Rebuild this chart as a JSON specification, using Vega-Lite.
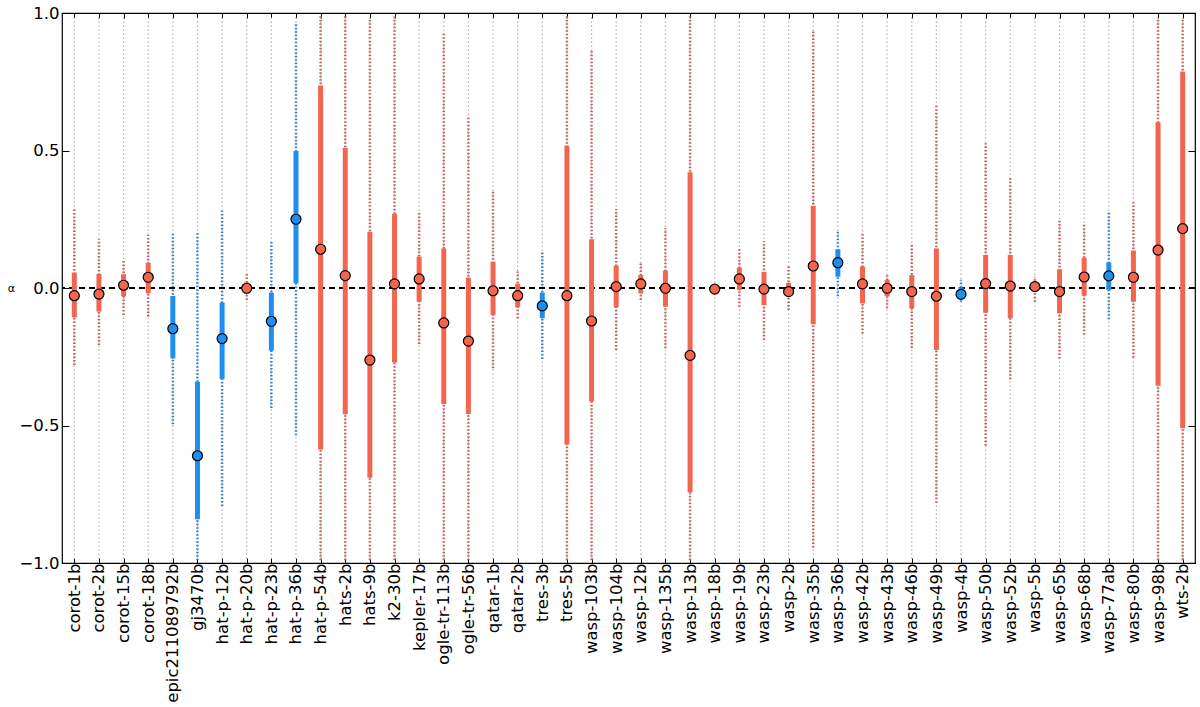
{
  "$schema": "https://vega.github.io/schema/vega-lite/v6.json",
  "width": 1133,
  "height": 550,
  "autosize": {"type": "none"},
  "padding": {"left": 62, "top": 13, "right": 5, "bottom": 144},
  "background": "white",
  "config": {
    "view": {"stroke": "black", "strokeWidth": 1.2},
    "font": "DejaVu Sans",
    "axis": {"labelFont": "DejaVu Sans", "labelFontSize": 16, "titleFont": "DejaVu Sans", "labelColor": "black", "tickColor": "black", "domain": false, "grid": false}
  },
  "data": {"values": [
    {"name": "corot-1b", "g": "R", "v": -0.028, "lo1": -0.107, "hi1": 0.056, "lo2": -0.28, "hi2": 0.29, "lo3": -0.985, "hi3": 0.985},
    {"name": "corot-2b", "g": "R", "v": -0.022, "lo1": -0.086, "hi1": 0.051, "lo2": -0.207, "hi2": 0.177, "lo3": -0.985, "hi3": 0.985},
    {"name": "corot-15b", "g": "R", "v": 0.01, "lo1": -0.03, "hi1": 0.05, "lo2": -0.098, "hi2": 0.1, "lo3": -0.985, "hi3": 0.985},
    {"name": "corot-18b", "g": "R", "v": 0.039, "lo1": -0.02, "hi1": 0.092, "lo2": -0.104, "hi2": 0.193, "lo3": -0.985, "hi3": 0.985},
    {"name": "epic211089792b", "g": "B", "v": -0.148, "lo1": -0.256, "hi1": -0.029, "lo2": -0.495, "hi2": 0.199, "lo3": -0.985, "hi3": 0.985},
    {"name": "gj3470b", "g": "B", "v": -0.61, "lo1": -0.841, "hi1": -0.341, "lo2": -0.99, "hi2": 0.2, "lo3": -0.985, "hi3": 0.985},
    {"name": "hat-p-12b", "g": "B", "v": -0.184, "lo1": -0.331, "hi1": -0.053, "lo2": -0.793, "hi2": 0.281, "lo3": -0.985, "hi3": 0.985},
    {"name": "hat-p-20b", "g": "R", "v": -0.001, "lo1": -0.02, "hi1": 0.02, "lo2": -0.044, "hi2": 0.053, "lo3": -0.985, "hi3": 0.985},
    {"name": "hat-p-23b", "g": "B", "v": -0.121, "lo1": -0.228, "hi1": -0.017, "lo2": -0.436, "hi2": 0.17, "lo3": -0.985, "hi3": 0.985},
    {"name": "hat-p-36b", "g": "B", "v": 0.25, "lo1": 0.017, "hi1": 0.498, "lo2": -0.535, "hi2": 0.96, "lo3": -0.985, "hi3": 0.985},
    {"name": "hat-p-54b", "g": "R", "v": 0.141, "lo1": -0.587, "hi1": 0.736, "lo2": -0.99, "hi2": 0.99, "lo3": -0.985, "hi3": 0.985},
    {"name": "hats-2b", "g": "R", "v": 0.045, "lo1": -0.459, "hi1": 0.51, "lo2": -0.99, "hi2": 0.99, "lo3": -0.985, "hi3": 0.985},
    {"name": "hats-9b", "g": "R", "v": -0.262, "lo1": -0.69, "hi1": 0.205, "lo2": -0.99, "hi2": 0.98, "lo3": -0.985, "hi3": 0.985},
    {"name": "k2-30b", "g": "R", "v": 0.015, "lo1": -0.271, "hi1": 0.27, "lo2": -0.99, "hi2": 0.987, "lo3": -0.985, "hi3": 0.985},
    {"name": "kepler-17b", "g": "R", "v": 0.033, "lo1": -0.05, "hi1": 0.114, "lo2": -0.204, "hi2": 0.275, "lo3": -0.985, "hi3": 0.985},
    {"name": "ogle-tr-113b", "g": "R", "v": -0.127, "lo1": -0.422, "hi1": 0.144, "lo2": -0.99, "hi2": 0.926, "lo3": -0.985, "hi3": 0.985},
    {"name": "ogle-tr-56b", "g": "R", "v": -0.193, "lo1": -0.458, "hi1": 0.037, "lo2": -0.99, "hi2": 0.627, "lo3": -0.985, "hi3": 0.985},
    {"name": "qatar-1b", "g": "R", "v": -0.01, "lo1": -0.098, "hi1": 0.095, "lo2": -0.292, "hi2": 0.35, "lo3": -0.985, "hi3": 0.985},
    {"name": "qatar-2b", "g": "R", "v": -0.028, "lo1": -0.07, "hi1": 0.016, "lo2": -0.11, "hi2": 0.06, "lo3": -0.985, "hi3": 0.985},
    {"name": "tres-3b", "g": "B", "v": -0.065, "lo1": -0.11, "hi1": -0.017, "lo2": -0.258, "hi2": 0.132, "lo3": -0.985, "hi3": 0.985},
    {"name": "tres-5b", "g": "R", "v": -0.028, "lo1": -0.569, "hi1": 0.517, "lo2": -0.99, "hi2": 0.99, "lo3": -0.985, "hi3": 0.985},
    {"name": "wasp-103b", "g": "R", "v": -0.12, "lo1": -0.413, "hi1": 0.177, "lo2": -0.99, "hi2": 0.863, "lo3": -0.985, "hi3": 0.985},
    {"name": "wasp-104b", "g": "R", "v": 0.005, "lo1": -0.07, "hi1": 0.081, "lo2": -0.225, "hi2": 0.287, "lo3": -0.985, "hi3": 0.985},
    {"name": "wasp-12b", "g": "R", "v": 0.015, "lo1": -0.02, "hi1": 0.047, "lo2": -0.044, "hi2": 0.096, "lo3": -0.985, "hi3": 0.985},
    {"name": "wasp-135b", "g": "R", "v": -0.001, "lo1": -0.068, "hi1": 0.063, "lo2": -0.219, "hi2": 0.217, "lo3": -0.985, "hi3": 0.985},
    {"name": "wasp-13b", "g": "R", "v": -0.245, "lo1": -0.743, "hi1": 0.421, "lo2": -0.99, "hi2": 0.99, "lo3": -0.985, "hi3": 0.985},
    {"name": "wasp-18b", "g": "R", "v": -0.004, "lo1": -0.012, "hi1": 0.006, "lo2": -0.02, "hi2": 0.015, "lo3": -0.985, "hi3": 0.985},
    {"name": "wasp-19b", "g": "R", "v": 0.033, "lo1": -0.007, "hi1": 0.074, "lo2": -0.068, "hi2": 0.141, "lo3": -0.985, "hi3": 0.985},
    {"name": "wasp-23b", "g": "R", "v": -0.004, "lo1": -0.062, "hi1": 0.059, "lo2": -0.189, "hi2": 0.17, "lo3": -0.985, "hi3": 0.985},
    {"name": "wasp-2b", "g": "R", "v": -0.013, "lo1": -0.025, "hi1": 0.019, "lo2": -0.08, "hi2": 0.084, "lo3": -0.985, "hi3": 0.985},
    {"name": "wasp-35b", "g": "R", "v": 0.08, "lo1": -0.132, "hi1": 0.298, "lo2": -0.944, "hi2": 0.936, "lo3": -0.985, "hi3": 0.985},
    {"name": "wasp-36b", "g": "B", "v": 0.092, "lo1": 0.041, "hi1": 0.141, "lo2": -0.03, "hi2": 0.211, "lo3": -0.985, "hi3": 0.985},
    {"name": "wasp-42b", "g": "R", "v": 0.015, "lo1": -0.056, "hi1": 0.078, "lo2": -0.165, "hi2": 0.205, "lo3": -0.985, "hi3": 0.985},
    {"name": "wasp-43b", "g": "R", "v": -0.001, "lo1": -0.03, "hi1": 0.029, "lo2": -0.074, "hi2": 0.053, "lo3": -0.985, "hi3": 0.985},
    {"name": "wasp-46b", "g": "R", "v": -0.013, "lo1": -0.074, "hi1": 0.047, "lo2": -0.218, "hi2": 0.156, "lo3": -0.985, "hi3": 0.985},
    {"name": "wasp-49b", "g": "R", "v": -0.03, "lo1": -0.225, "hi1": 0.144, "lo2": -0.781, "hi2": 0.665, "lo3": -0.985, "hi3": 0.985},
    {"name": "wasp-4b", "g": "B", "v": -0.023, "lo1": -0.038, "hi1": 0.003, "lo2": -0.05, "hi2": 0.03, "lo3": -0.985, "hi3": 0.985},
    {"name": "wasp-50b", "g": "R", "v": 0.016, "lo1": -0.09, "hi1": 0.12, "lo2": -0.573, "hi2": 0.526, "lo3": -0.985, "hi3": 0.985},
    {"name": "wasp-52b", "g": "R", "v": 0.007, "lo1": -0.11, "hi1": 0.12, "lo2": -0.332, "hi2": 0.399, "lo3": -0.985, "hi3": 0.985},
    {"name": "wasp-5b", "g": "R", "v": 0.005, "lo1": -0.008, "hi1": 0.012, "lo2": -0.05, "hi2": 0.041, "lo3": -0.985, "hi3": 0.985},
    {"name": "wasp-65b", "g": "R", "v": -0.013, "lo1": -0.092, "hi1": 0.068, "lo2": -0.256, "hi2": 0.245, "lo3": -0.985, "hi3": 0.985},
    {"name": "wasp-68b", "g": "R", "v": 0.04, "lo1": -0.028, "hi1": 0.11, "lo2": -0.17, "hi2": 0.237, "lo3": -0.985, "hi3": 0.985},
    {"name": "wasp-77ab", "g": "B", "v": 0.044, "lo1": -0.007, "hi1": 0.093, "lo2": -0.114, "hi2": 0.275, "lo3": -0.985, "hi3": 0.985},
    {"name": "wasp-80b", "g": "R", "v": 0.039, "lo1": -0.05, "hi1": 0.136, "lo2": -0.253, "hi2": 0.312, "lo3": -0.985, "hi3": 0.985},
    {"name": "wasp-98b", "g": "R", "v": 0.138, "lo1": -0.355, "hi1": 0.603, "lo2": -0.99, "hi2": 0.98, "lo3": -0.985, "hi3": 0.985},
    {"name": "wts-2b", "g": "R", "v": 0.216, "lo1": -0.51, "hi1": 0.787, "lo2": -0.99, "hi2": 0.98, "lo3": -0.985, "hi3": 0.985}
  ]},
  "resolve": {"axis": {"x": "independent", "y": "independent"}, "scale": {"color": "independent"}},
  "layer": [
    {
      "mark": {"type": "rule", "color": "#b3b3b3", "strokeWidth": 1.2, "strokeDash": [1.5, 2.5]},
      "encoding": {
        "x": {"field": "name", "type": "nominal", "sort": null,
              "scale": {"type": "point", "padding": 0.5},
              "axis": {"orient": "bottom", "title": null, "labelAngle": -90, "labelFontSize": 16.5, "labelPadding": 5, "tickSize": -5, "tickWidth": 1}},
        "y": {"field": "lo3", "type": "quantitative",
              "scale": {"domain": [-1, 1], "nice": false, "zero": false},
              "axis": {"orient": "left", "title": "α", "titleAngle": 0, "titleBaseline": "middle", "titleFontSize": 11, "titleFontWeight": "normal", "titlePadding": 8, "values": [-1, -0.5, 0, 0.5, 1], "format": ".1f", "labelFontSize": 16.5, "labelPadding": 10, "tickSize": -7, "tickWidth": 1}},
        "y2": {"field": "hi3"}
      }
    },
    {
      "mark": {"type": "rule", "strokeWidth": 2.5, "strokeDash": [1.5, 2]},
      "encoding": {
        "x": {"field": "name", "type": "nominal", "sort": null, "axis": null},
        "y": {"field": "lo2", "type": "quantitative", "axis": null},
        "y2": {"field": "hi2"},
        "color": {"field": "g", "type": "nominal", "scale": {"domain": ["R", "B"], "range": ["#c4645e", "#3a80d0"]}, "legend": null}
      }
    },
    {
      "mark": {"type": "rule", "color": "black", "strokeWidth": 1, "strokeDash": [6, 4]},
      "encoding": {
        "y": {"datum": 0, "type": "quantitative",
              "axis": {"orient": "right", "title": null, "labels": false, "values": [-1, -0.5, 0, 0.5, 1], "tickSize": -7, "tickWidth": 1}}
      }
    },
    {
      "mark": {"type": "rule", "strokeWidth": 5},
      "encoding": {
        "x": {"field": "name", "type": "nominal", "sort": null,
              "axis": {"orient": "top", "title": null, "labels": false, "tickSize": -5, "tickWidth": 1}},
        "y": {"field": "lo1", "type": "quantitative", "axis": null},
        "y2": {"field": "hi1"},
        "color": {"field": "g", "type": "nominal", "scale": {"domain": ["R", "B"], "range": ["#f26650", "#1e8ff0"]}, "legend": null}
      }
    },
    {
      "mark": {"type": "point", "filled": true, "size": 100, "stroke": "black", "strokeWidth": 1.2, "opacity": 1},
      "encoding": {
        "x": {"field": "name", "type": "nominal", "sort": null, "axis": null},
        "y": {"field": "v", "type": "quantitative", "axis": null},
        "fill": {"field": "g", "type": "nominal", "scale": {"domain": ["R", "B"], "range": ["#f26650", "#1e8ff0"]}, "legend": null}
      }
    }
  ]
}
